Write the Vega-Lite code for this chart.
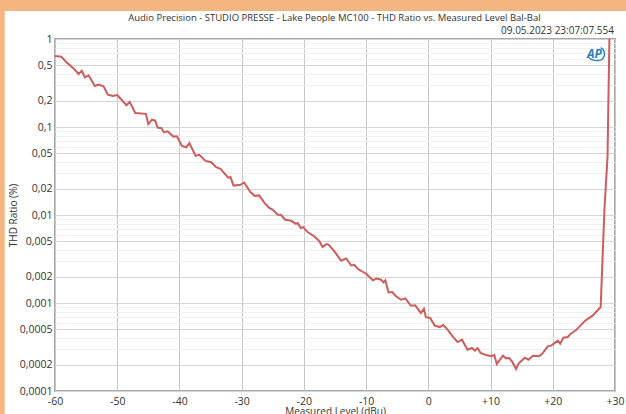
{"$schema":"https://vega.github.io/schema/vega-lite/v6.json","width":560,"height":352,"autosize":"none","padding":{"left":55,"top":39,"right":11,"bottom":23},"background":"#ffffff","config":{"font":"Open Sans","view":{"stroke":"#a8a8a8","strokeWidth":2}},"datasets":{"curve":[{"l":-60,"t":0.641},{"l":-59,"t":0.63},{"l":-58.2,"t":0.548},{"l":-57.1,"t":0.469},{"l":-56.2,"t":0.401},{"l":-55.7,"t":0.437},{"l":-55.2,"t":0.367},{"l":-54.6,"t":0.387},{"l":-53.6,"t":0.293},{"l":-53,"t":0.303},{"l":-52.2,"t":0.29},{"l":-51.5,"t":0.233},{"l":-50.7,"t":0.225},{"l":-50,"t":0.231},{"l":-48.5,"t":0.177},{"l":-48,"t":0.193},{"l":-47.1,"t":0.1445},{"l":-45.4,"t":0.141},{"l":-45,"t":0.108},{"l":-44.4,"t":0.121},{"l":-43.9,"t":0.118},{"l":-43.5,"t":0.0986},{"l":-42.9,"t":0.0968},{"l":-42.5,"t":0.0873},{"l":-41.9,"t":0.0895},{"l":-41,"t":0.0778},{"l":-40.4,"t":0.0785},{"l":-39.6,"t":0.061},{"l":-38.9,"t":0.0589},{"l":-38.4,"t":0.0654},{"l":-37.4,"t":0.047},{"l":-36.8,"t":0.0482},{"l":-35.8,"t":0.0412},{"l":-34.9,"t":0.0398},{"l":-34.1,"t":0.0349},{"l":-33.4,"t":0.0334},{"l":-32.2,"t":0.0267},{"l":-31.8,"t":0.0269},{"l":-31.3,"t":0.0216},{"l":-30.2,"t":0.022},{"l":-29.6,"t":0.0234},{"l":-28.6,"t":0.0182},{"l":-27.9,"t":0.0165},{"l":-27.2,"t":0.0167},{"l":-26.3,"t":0.01365},{"l":-25.6,"t":0.0121},{"l":-25,"t":0.01146},{"l":-24.2,"t":0.01005},{"l":-23.7,"t":0.01005},{"l":-23,"t":0.00883},{"l":-22,"t":0.00859},{"l":-21.3,"t":0.00794},{"l":-21,"t":0.00809},{"l":-20.5,"t":0.0071},{"l":-20.1,"t":0.00728},{"l":-19.4,"t":0.0064},{"l":-18.3,"t":0.0057},{"l":-17.5,"t":0.00501},{"l":-17,"t":0.00432},{"l":-16.4,"t":0.00467},{"l":-16,"t":0.00459},{"l":-15.1,"t":0.00385},{"l":-14,"t":0.00302},{"l":-13.2,"t":0.00321},{"l":-12.4,"t":0.00267},{"l":-11.9,"t":0.00272},{"l":-11.3,"t":0.00243},{"l":-10,"t":0.00215},{"l":-8.9,"t":0.00181},{"l":-8.3,"t":0.0019},{"l":-7.6,"t":0.00184},{"l":-7.2,"t":0.00171},{"l":-6.9,"t":0.00181},{"l":-6.4,"t":0.00132},{"l":-5.8,"t":0.00133},{"l":-5.2,"t":0.00119},{"l":-4.4,"t":0.00109},{"l":-3.7,"t":0.00113},{"l":-2.8,"t":0.00093},{"l":-2.1,"t":0.00094},{"l":-1.2,"t":0.00077},{"l":-0.7,"t":0.00086},{"l":-0.4,"t":0.00069},{"l":0.3,"t":0.000675},{"l":1,"t":0.000557},{"l":1.8,"t":0.000533},{"l":2.4,"t":0.000562},{"l":3.1,"t":0.000498},{"l":3.9,"t":0.000418},{"l":4.7,"t":0.00036},{"l":5.4,"t":0.000383},{"l":6.3,"t":0.000295},{"l":7,"t":0.000308},{"l":7.5,"t":0.000288},{"l":7.9,"t":0.000308},{"l":8.4,"t":0.00027},{"l":9.3,"t":0.000256},{"l":10.1,"t":0.000248},{"l":10.6,"t":0.000256},{"l":11,"t":0.000203},{"l":12,"t":0.000252},{"l":12.5,"t":0.000235},{"l":13,"t":0.000237},{"l":13.5,"t":0.000214},{"l":14.1,"t":0.000178},{"l":14.5,"t":0.000205},{"l":15.5,"t":0.000239},{"l":16.1,"t":0.000227},{"l":16.8,"t":0.000252},{"l":17.8,"t":0.000248},{"l":18.3,"t":0.000264},{"l":19.2,"t":0.000322},{"l":19.8,"t":0.00033},{"l":20.8,"t":0.000373},{"l":21.2,"t":0.000345},{"l":21.7,"t":0.000404},{"l":22.4,"t":0.000411},{"l":22.9,"t":0.000448},{"l":23.7,"t":0.000489},{"l":25.2,"t":0.00063},{"l":26.4,"t":0.000718},{"l":27.7,"t":0.0009},{"l":28.3,"t":0.01146},{"l":28.8,"t":0.0462},{"l":29.1,"t":1}]},"data":{"name":"curve"},"layer":[{"data":{"values":[{"a":-70,"b":32,"c":2.08,"d":4},{"a":-70,"b":-68.08,"c":0.00002,"d":4}]},"mark":{"type":"rect","color":"#f5b581","clip":false},"encoding":{"x":{"field":"a","type":"quantitative","scale":{"domain":[-60,30],"nice":false,"zero":false},"axis":{"values":[-60,-55,-50,-45,-40,-35,-30,-25,-20,-15,-10,-5,0,5,10,15,20,25,30],"title":"Measured Level (dBu)","titleFont":"Open Sans","titleFontSize":10,"titleFontWeight":"normal","titleColor":"#333333","titlePadding":0,"labelFont":"Open Sans","labelFontSize":10.5,"labelColor":"#333333","labelPadding":5,"labelOverlap":false,"labelFlush":false,"ticks":false,"domain":false,"grid":true,"gridColor":{"condition":{"test":"datum.value % 10 === 0","value":"#c6c6c6"},"value":"#efefef"},"labelExpr":"datum.value % 10 !== 0 ? '' : (datum.value > 0 ? '+' + datum.value : '' + datum.value)"}},"x2":{"field":"b"},"y":{"field":"c","type":"quantitative","scale":{"type":"log","domain":[0.0001,1],"nice":false},"axis":{"values":[1,0.9,0.8,0.7,0.6,0.5,0.4,0.3,0.2,0.1,0.09,0.08,0.07,0.06,0.05,0.04,0.03,0.02,0.01,0.009,0.008,0.007,0.006,0.005,0.004,0.003,0.002,0.001,0.0009,0.0008,0.0007,0.0006,0.0005,0.0004,0.0003,0.0002,0.0001],"title":"THD Ratio (%)","titleFont":"Open Sans","titleFontSize":10,"titleFontWeight":"normal","titleColor":"#333333","titlePadding":1,"labelFont":"Open Sans","labelFontSize":10.5,"labelColor":"#333333","labelPadding":3,"labelOverlap":false,"ticks":false,"domain":false,"grid":true,"gridColor":{"condition":{"test":"indexof([1,0.5,0.2,0.1,0.05,0.02,0.01,0.005,0.002,0.001,0.0005,0.0002,0.0001],datum.value) >= 0","value":"#d4d4d4"},"value":"#f0f0f0"},"labelExpr":"indexof([1,0.5,0.2,0.1,0.05,0.02,0.01,0.005,0.002,0.001,0.0005,0.0002,0.0001],datum.value) >= 0 ? replace('' + datum.value,'.',',') : ''"}},"y2":{"field":"d"}}},{"mark":{"type":"line","color":"#cd5c5c","strokeWidth":2,"clip":true},"encoding":{"x":{"field":"l","type":"quantitative"},"y":{"field":"t","type":"quantitative"}}},{"data":{"values":[{"l":-15.1,"t":1,"s":"Audio Precision - STUDIO PRESSE - Lake People MC100 - THD Ratio vs. Measured Level Bal-Bal"}]},"mark":{"type":"text","align":"center","baseline":"alphabetic","dy":-18,"font":"Open Sans","fontSize":9.5,"color":"#333333"},"encoding":{"x":{"field":"l","type":"quantitative"},"y":{"field":"t","type":"quantitative"},"text":{"field":"s"}}},{"data":{"values":[{"l":30,"t":1,"s":"09.05.2023 23:07:07.554"}]},"mark":{"type":"text","align":"right","baseline":"alphabetic","dy":-5,"dx":-1,"font":"Open Sans","fontSize":10,"color":"#333333"},"encoding":{"x":{"field":"l","type":"quantitative"},"y":{"field":"t","type":"quantitative"},"text":{"field":"s"}}},{"data":{"values":[{"l":26.7,"t":0.675,"s":"AP"}]},"mark":{"type":"text","align":"center","baseline":"middle","font":"Open Sans","fontSize":12,"fontWeight":"bold","fontStyle":"italic","color":"#2a7fb8"},"encoding":{"x":{"field":"l","type":"quantitative"},"y":{"field":"t","type":"quantitative"},"text":{"field":"s"}}},{"data":{"values":[{"l":27.07,"t":0.675}]},"mark":{"type":"point","shape":"M -0.95 0.35 A 1.1 0.75 0 0 0 0.45 0.7 A 0.75 0.8 0 0 0 0.45 -0.75","filled":false,"stroke":"#2a7fb8","strokeWidth":1.4,"size":300,"opacity":1},"encoding":{"x":{"field":"l","type":"quantitative"},"y":{"field":"t","type":"quantitative"}}}]}
